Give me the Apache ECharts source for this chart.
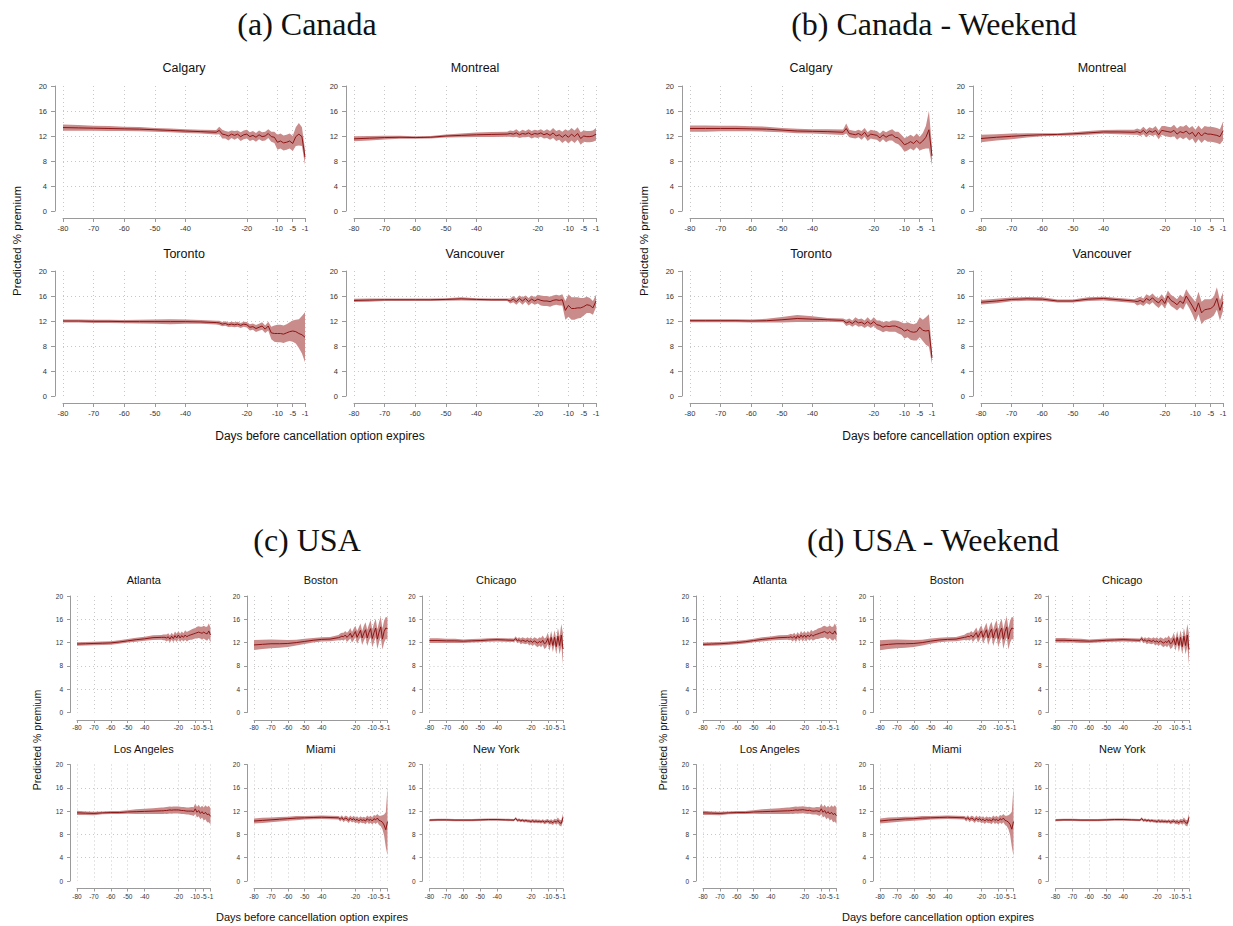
<!DOCTYPE html>
<html>
<head>
<meta charset="utf-8">
<script src="https://cdn.jsdelivr.net/npm/echarts@6.0.0/dist/echarts.min.js"></script>
<style>html,body{margin:0;padding:0;background:#fff}#c{width:1233px;height:926px}</style>
</head>
<body>
<div id="c"></div>
<script>
// ---------------- DATA ----------------
const days = [-80,-75,-70,-65,-60,-55,-50,-45,-40,-35,-30,
  -29,-28,-27,-26,-25,-24,-23,-22,-21,-20,
  -19,-18,-17,-16,-15,-14,-13,-12,-11,-10,
  -9,-8,-7,-6,-5,-4,-3,-2,-1];
const xTickDays = [-80,-70,-60,-50,-40,-20,-10,-5,-1];
const yTickValues = [0,4,8,12,16,20];
const yGridValues = [4,8,12,16];

const sectionHeaders = ['(a) Canada','(b) Canada - Weekend','(c) USA','(d) USA - Weekend'];
const canadaCities = ['Calgary','Montreal','Toronto','Vancouver'];
const usaCities = ['Atlanta','Boston','Chicago','Los Angeles','Miami','New York'];
const xAxisTitle = 'Days before cancellation option expires';
const yAxisTitle = 'Predicted % premium';

// (a) Canada  — mean and half-width of the confidence band
const caCalgaryMean = [13.35,13.3,13.25,13.2,13.15,13.1,13.0,12.9,12.8,12.7,12.6,
  12.9,12.3,12.2,12.0,12.3,12.1,12.3,11.9,12.2,12.3,
  11.9,12.1,11.8,12.2,11.9,12.0,12.4,11.9,11.8,11.0,
  11.2,10.9,11.0,11.2,10.8,11.9,12.3,11.9,8.6];
const caCalgaryCI = [0.5,0.45,0.4,0.4,0.35,0.35,0.3,0.3,0.3,0.3,0.35,
  0.6,0.7,0.6,0.7,0.6,0.7,0.6,0.7,0.7,0.7,
  0.7,0.7,0.7,0.7,0.7,0.7,0.7,0.8,0.9,1.2,
  1.2,1.2,1.2,1.2,1.2,1.5,1.8,1.5,1.2];
const caMontrealMean = [11.55,11.65,11.75,11.8,11.75,11.8,12.0,12.1,12.2,12.25,12.3,
  12.4,12.3,12.5,12.2,12.4,12.3,12.5,12.2,12.4,12.3,
  12.5,12.2,12.4,12.1,12.5,12.0,12.2,11.8,12.2,11.8,
  12.3,11.9,12.4,11.6,12.0,11.9,11.9,12.0,12.3];
const caMontrealCI = [0.4,0.35,0.3,0.25,0.2,0.2,0.25,0.3,0.35,0.4,0.4,
  0.5,0.5,0.6,0.5,0.6,0.5,0.6,0.6,0.6,0.6,
  0.6,0.6,0.7,0.7,0.8,0.8,0.8,0.9,0.9,1.0,
  1.0,1.0,1.0,1.0,0.9,0.9,0.9,0.9,1.0];
const caTorontoMean = [12.0,12.0,11.95,11.95,11.9,11.9,11.9,11.9,11.9,11.85,11.75,
  11.7,11.5,11.6,11.4,11.5,11.4,11.5,11.3,11.5,11.4,
  11.0,11.1,10.8,11.0,11.2,10.7,11.2,10.1,10.0,10.0,
  10.0,9.9,10.1,10.3,10.4,10.3,10.0,9.8,9.4];
const caTorontoCI = [0.25,0.25,0.25,0.25,0.25,0.3,0.35,0.4,0.35,0.3,0.3,
  0.35,0.35,0.35,0.35,0.4,0.4,0.4,0.4,0.4,0.45,
  0.5,0.5,0.55,0.55,0.6,0.6,0.7,1.0,1.3,1.4,
  1.4,1.4,1.4,1.5,1.7,1.9,2.3,3.0,4.0];
const caVancouverMean = [15.3,15.35,15.4,15.4,15.4,15.4,15.45,15.55,15.45,15.4,15.4,
  15.2,15.5,15.1,15.6,15.2,15.6,15.1,15.5,15.2,15.5,
  15.3,15.2,15.2,15.1,15.3,15.4,15.3,15.4,13.7,14.5,
  14.0,14.0,14.1,14.1,14.3,14.6,14.5,14.1,15.2];
const caVancouverCI = [0.25,0.25,0.2,0.2,0.2,0.2,0.2,0.25,0.2,0.2,0.2,
  0.4,0.5,0.5,0.5,0.6,0.5,0.6,0.6,0.6,0.7,
  0.8,0.8,0.8,0.8,0.8,0.8,0.8,0.9,1.5,1.8,
  1.8,1.8,1.7,1.6,1.4,1.3,1.2,1.1,1.0];

// (b) Canada - Weekend
const cwCalgaryMean = [13.2,13.2,13.2,13.2,13.15,13.1,12.95,12.8,12.75,12.7,12.6,
  13.2,12.4,12.3,12.2,12.4,12.1,12.6,11.9,12.3,12.2,
  12.1,11.7,12.2,11.8,12.1,12.2,11.8,11.7,11.2,10.6,
  10.8,11.1,10.8,11.3,10.8,11.2,11.8,13.0,8.8];
const cwCalgaryCI = [0.5,0.5,0.45,0.45,0.4,0.4,0.35,0.35,0.35,0.4,0.45,
  0.8,0.6,0.6,0.6,0.6,0.7,0.7,0.7,0.7,0.7,
  0.7,0.7,0.7,0.8,0.8,0.9,0.9,1.0,1.0,1.1,
  1.1,1.1,1.1,1.1,1.1,1.3,1.8,3.0,1.5];
const cwMontrealMean = [11.6,11.8,11.95,12.1,12.2,12.25,12.35,12.5,12.65,12.65,12.6,
  12.7,12.5,12.9,12.4,12.8,12.6,12.9,12.2,12.9,12.8,
  12.7,12.6,12.9,12.3,12.7,12.5,12.8,12.3,12.6,11.9,
  12.6,12.0,12.5,12.3,12.3,12.2,12.1,11.9,12.8];
const cwMontrealCI = [0.6,0.5,0.45,0.35,0.25,0.2,0.25,0.3,0.3,0.35,0.4,
  0.5,0.5,0.6,0.6,0.6,0.6,0.7,0.7,0.7,0.8,
  0.8,0.8,0.9,0.9,0.9,1.0,1.0,1.0,1.0,1.1,
  1.1,1.1,1.1,1.2,1.2,1.2,1.2,1.2,1.5];
const cwTorontoMean = [12.05,12.05,12.05,12.05,12.0,12.05,12.2,12.4,12.3,12.2,12.1,
  11.7,11.9,11.6,12.0,11.7,11.8,11.5,11.9,11.5,11.9,
  11.4,11.3,11.0,11.2,11.1,11.2,11.2,11.0,10.8,10.4,
  10.6,10.3,10.2,10.3,11.0,10.5,10.4,10.5,6.1];
const cwTorontoCI = [0.25,0.25,0.25,0.25,0.25,0.3,0.45,0.55,0.45,0.3,0.3,
  0.5,0.5,0.5,0.6,0.6,0.6,0.6,0.7,0.6,0.7,
  0.7,0.8,0.8,0.8,0.8,0.9,0.9,1.0,1.0,1.2,
  1.2,1.3,1.3,1.4,1.6,1.7,2.2,2.6,1.0];
const cwVancouverMean = [15.0,15.2,15.45,15.55,15.5,15.2,15.2,15.5,15.6,15.4,15.2,
  15.1,15.3,15.0,15.6,15.3,15.7,15.2,14.9,15.5,14.8,
  16.0,15.3,15.0,14.6,15.2,14.8,16.0,15.2,14.4,13.5,
  14.9,13.3,13.8,13.9,14.0,14.4,15.6,13.7,15.1];
const cwVancouverCI = [0.35,0.35,0.3,0.3,0.3,0.25,0.25,0.3,0.3,0.3,0.3,
  0.6,0.6,0.6,0.7,0.7,0.7,0.7,0.8,0.8,0.8,
  0.9,0.9,0.9,0.9,1.0,1.0,1.1,1.1,1.3,1.6,
  1.8,1.8,1.7,1.6,1.5,1.5,1.8,1.6,1.5];

// (c) USA
const usAtlantaMean = [11.75,11.8,11.85,11.9,11.95,12.1,12.3,12.5,12.65,12.85,12.9,
  12.9,12.9,12.8,13.0,12.6,13.1,12.7,13.2,12.8,13.3,
  12.8,13.2,12.9,13.3,13.0,13.2,13.3,13.4,13.5,13.6,
  13.7,13.8,13.7,13.6,13.8,13.6,13.5,14.0,13.3];
const usAtlantaCI = [0.3,0.3,0.3,0.3,0.3,0.3,0.3,0.35,0.35,0.4,0.4,
  0.5,0.5,0.6,0.6,0.6,0.6,0.6,0.7,0.7,0.7,
  0.7,0.7,0.7,0.8,0.8,0.8,0.8,0.9,0.9,0.9,
  1.0,1.0,1.0,1.1,1.1,1.1,1.2,1.3,1.3];
const usBostonMean = [11.6,11.7,11.8,11.8,11.85,12.0,12.2,12.4,12.55,12.6,12.85,
  12.95,13.1,13.0,13.3,12.9,13.2,13.6,12.9,13.4,13.9,
  12.9,13.5,14.1,12.8,13.6,14.2,12.8,13.7,14.4,12.7,
  13.7,14.5,12.6,13.8,14.7,12.6,13.9,14.5,14.4];
const usBostonCI = [0.85,0.8,0.75,0.7,0.6,0.5,0.45,0.4,0.35,0.35,0.45,
  0.6,0.6,0.7,0.7,0.8,0.8,0.9,0.9,1.0,1.0,
  1.1,1.1,1.2,1.2,1.3,1.3,1.4,1.4,1.5,1.5,
  1.6,1.6,1.7,1.7,1.8,1.8,1.9,1.9,1.9];
const usChicagoMean = [12.35,12.35,12.3,12.3,12.25,12.3,12.35,12.45,12.5,12.45,12.4,
  12.7,12.3,12.5,12.2,12.4,12.3,12.2,12.4,12.1,12.3,
  12.0,12.3,12.1,11.9,12.2,12.0,12.4,11.8,12.0,12.7,
  11.6,12.9,11.5,12.9,11.3,13.1,11.5,13.3,10.9];
const usChicagoCI = [0.4,0.4,0.35,0.35,0.3,0.3,0.3,0.3,0.3,0.3,0.3,
  0.4,0.4,0.4,0.5,0.5,0.5,0.5,0.5,0.6,0.6,
  0.6,0.6,0.7,0.7,0.7,0.8,0.8,0.9,0.9,1.0,
  1.0,1.1,1.1,1.2,1.3,1.4,1.5,1.9,2.6];
const usLosAngelesMean = [11.7,11.65,11.6,11.7,11.75,11.75,11.85,11.9,11.95,12.0,12.05,
  12.05,12.1,12.1,12.15,12.2,12.15,12.2,12.2,12.2,12.2,
  12.15,12.1,12.1,12.05,12.0,12.0,12.0,12.0,11.9,12.4,
  11.8,12.1,11.6,11.9,11.5,11.8,11.4,11.5,11.1];
const usLosAngelesCI = [0.35,0.3,0.3,0.25,0.25,0.25,0.3,0.4,0.45,0.5,0.55,
  0.55,0.55,0.6,0.6,0.6,0.6,0.6,0.6,0.6,0.6,
  0.6,0.6,0.6,0.6,0.6,0.6,0.65,0.7,0.75,0.9,
  0.9,1.0,1.0,1.0,1.1,1.2,1.3,1.4,1.4];
const usMiamiMean = [10.3,10.4,10.5,10.6,10.7,10.8,10.85,10.9,10.95,10.9,10.85,
  10.6,10.9,10.5,10.8,10.7,10.4,10.8,10.5,10.7,10.4,
  10.6,10.3,10.6,10.4,10.5,10.3,10.7,10.4,10.6,10.3,
  10.7,10.5,10.8,10.4,10.3,10.1,9.6,8.8,10.2];
const usMiamiCI = [0.45,0.45,0.4,0.4,0.35,0.35,0.3,0.3,0.3,0.3,0.3,
  0.4,0.4,0.4,0.4,0.45,0.45,0.45,0.45,0.5,0.5,
  0.5,0.5,0.5,0.5,0.55,0.55,0.55,0.6,0.6,0.6,
  0.65,0.7,0.7,0.8,0.9,1.2,1.8,3.0,5.8];
const usNewYorkMean = [10.45,10.5,10.5,10.45,10.45,10.45,10.5,10.55,10.55,10.5,10.45,
  10.75,10.4,10.5,10.35,10.45,10.3,10.4,10.3,10.3,10.2,
  10.35,10.2,10.3,10.2,10.25,10.15,10.3,10.1,10.2,10.3,
  10.1,10.2,10.0,10.3,10.1,10.4,10.0,9.9,10.9];
const usNewYorkCI = [0.2,0.2,0.2,0.2,0.2,0.2,0.2,0.2,0.2,0.2,0.2,
  0.25,0.25,0.25,0.25,0.25,0.25,0.25,0.25,0.25,0.3,
  0.3,0.3,0.3,0.3,0.3,0.3,0.3,0.35,0.35,0.35,
  0.35,0.4,0.4,0.4,0.45,0.5,0.5,0.55,0.7];

// (d) USA - Weekend
const uwAtlantaMean = [11.7,11.75,11.8,11.9,12.0,12.15,12.35,12.55,12.7,12.85,12.9,
  12.9,13.0,12.8,13.1,12.7,13.2,12.8,13.3,12.9,13.3,
  12.9,13.3,13.0,13.4,13.1,13.3,13.4,13.5,13.6,13.7,
  13.8,13.9,13.7,13.6,13.9,13.6,13.5,14.0,13.4];
const uwAtlantaCI = [0.3,0.3,0.3,0.3,0.3,0.3,0.3,0.35,0.35,0.4,0.4,
  0.5,0.5,0.6,0.6,0.6,0.6,0.6,0.7,0.7,0.7,
  0.7,0.7,0.7,0.8,0.8,0.8,0.8,0.9,0.9,0.9,
  1.0,1.0,1.0,1.1,1.1,1.1,1.2,1.3,1.3];
const uwBostonMean = [11.55,11.7,11.8,11.8,11.85,12.0,12.25,12.45,12.55,12.6,12.9,
  12.95,13.1,13.0,13.3,12.9,13.3,13.7,12.9,13.5,14.0,
  12.9,13.6,14.2,12.8,13.7,14.3,12.8,13.8,14.4,12.7,
  13.8,14.5,12.6,13.9,14.7,12.6,13.9,14.5,14.4];
const uwBostonCI = [0.85,0.8,0.75,0.7,0.6,0.5,0.45,0.4,0.35,0.35,0.45,
  0.6,0.6,0.7,0.7,0.8,0.8,0.9,0.9,1.0,1.0,
  1.1,1.1,1.2,1.2,1.3,1.3,1.4,1.4,1.5,1.5,
  1.6,1.6,1.7,1.7,1.8,1.8,1.9,1.9,1.9];
const uwChicagoMean = [12.4,12.4,12.35,12.3,12.25,12.3,12.4,12.45,12.5,12.45,12.4,
  12.7,12.3,12.5,12.2,12.4,12.3,12.2,12.4,12.1,12.3,
  12.0,12.3,12.1,11.9,12.2,12.0,12.4,11.8,12.0,12.7,
  11.6,12.9,11.5,12.9,11.3,13.1,11.5,13.3,10.8];
const uwChicagoCI = [0.4,0.4,0.35,0.35,0.3,0.3,0.3,0.3,0.3,0.3,0.3,
  0.4,0.4,0.4,0.5,0.5,0.5,0.5,0.5,0.6,0.6,
  0.6,0.6,0.7,0.7,0.7,0.8,0.8,0.9,0.9,1.0,
  1.0,1.1,1.1,1.2,1.3,1.4,1.5,1.9,2.6];
const uwLosAngelesMean = [11.7,11.65,11.6,11.7,11.75,11.75,11.85,11.9,11.95,12.0,12.05,
  12.05,12.1,12.1,12.15,12.2,12.15,12.2,12.2,12.25,12.2,
  12.15,12.1,12.15,12.05,12.0,12.0,12.05,12.0,11.9,12.4,
  11.8,12.1,11.6,11.9,11.5,11.8,11.4,11.6,11.2];
const uwLosAngelesCI = [0.35,0.3,0.3,0.25,0.25,0.25,0.3,0.4,0.45,0.5,0.55,
  0.55,0.55,0.6,0.6,0.6,0.6,0.6,0.6,0.6,0.6,
  0.6,0.6,0.6,0.6,0.6,0.6,0.65,0.7,0.75,0.9,
  0.9,1.0,1.0,1.0,1.1,1.2,1.3,1.4,1.4];
const uwMiamiMean = [10.3,10.45,10.55,10.65,10.7,10.8,10.85,10.9,10.95,10.9,10.85,
  10.6,10.9,10.5,10.8,10.7,10.4,10.8,10.5,10.7,10.4,
  10.6,10.3,10.6,10.4,10.5,10.3,10.7,10.4,10.6,10.3,
  10.7,10.5,10.8,10.4,10.3,10.1,9.7,8.9,10.2];
const uwMiamiCI = [0.45,0.45,0.4,0.4,0.35,0.35,0.3,0.3,0.3,0.3,0.3,
  0.4,0.4,0.4,0.4,0.45,0.45,0.45,0.45,0.5,0.5,
  0.5,0.5,0.5,0.5,0.55,0.55,0.55,0.6,0.6,0.6,
  0.65,0.7,0.7,0.8,0.9,1.2,1.8,3.0,5.9];
const uwNewYorkMean = [10.45,10.5,10.5,10.45,10.45,10.45,10.5,10.55,10.55,10.5,10.45,
  10.7,10.4,10.5,10.35,10.45,10.3,10.4,10.3,10.3,10.2,
  10.35,10.2,10.3,10.2,10.25,10.15,10.3,10.1,10.2,10.3,
  10.1,10.2,10.0,10.3,10.1,10.4,10.0,9.9,10.9];
const uwNewYorkCI = [0.2,0.2,0.2,0.2,0.2,0.2,0.2,0.2,0.2,0.2,0.2,
  0.25,0.25,0.25,0.25,0.25,0.25,0.25,0.25,0.25,0.3,
  0.3,0.3,0.3,0.3,0.3,0.3,0.3,0.35,0.35,0.35,
  0.35,0.4,0.4,0.4,0.45,0.5,0.5,0.55,0.7];

// ---------------- LAYOUT / STYLE ----------------
const LINE_COLOR = '#8e1515';
const BAND_COLOR = '#ca8b8b';
const AXIS_COLOR = '#9a9a9a';
const GRID_COLOR = '#c8c8c8';
const GRID_DASH = [1, 3];
const SANS = '"Liberation Sans", Arial, Helvetica, sans-serif';
const SERIF = '"Liberation Serif", "Times New Roman", serif';

const sections = [
  { header: sectionHeaders[0], hx: 307, hy: 24, cities: canadaCities,
    series: [[caCalgaryMean, caCalgaryCI],[caMontrealMean, caMontrealCI],[caTorontoMean, caTorontoCI],[caVancouverMean, caVancouverCI]],
    cols: [63, 354], rows: [86, 271], w: 242, h: 125, titleY: [68, 254],
    yOff: 8, xOff: 7, tickFs: 7.5, titleFs: 12.5, tickLen: 4, xMargin: 6, yMargin: 8,
    xName: {x: 320, y: 436, fs: 12}, yName: {x: 17, y: 241, fs: 11.5} },
  { header: sectionHeaders[1], hx: 934, hy: 24, cities: canadaCities,
    series: [[cwCalgaryMean, cwCalgaryCI],[cwMontrealMean, cwMontrealCI],[cwTorontoMean, cwTorontoCI],[cwVancouverMean, cwVancouverCI]],
    cols: [690, 981], rows: [86, 271], w: 242, h: 125, titleY: [68, 254],
    yOff: 8, xOff: 7, tickFs: 7.5, titleFs: 12.5, tickLen: 4, xMargin: 6, yMargin: 8,
    xName: {x: 947, y: 436, fs: 12}, yName: {x: 644, y: 241, fs: 11.5} },
  { header: sectionHeaders[2], hx: 307, hy: 540, cities: usaCities,
    series: [[usAtlantaMean, usAtlantaCI],[usBostonMean, usBostonCI],[usChicagoMean, usChicagoCI],[usLosAngelesMean, usLosAngelesCI],[usMiamiMean, usMiamiCI],[usNewYorkMean, usNewYorkCI]],
    cols: [77, 254, 429.5], rows: [596, 764.5], w: 133.5, h: 116.5, titleY: [580, 749],
    yOff: 7, xOff: 7.5, tickFs: 6.5, titleFs: 11, tickLen: 3, xMargin: 4, yMargin: 7,
    xName: {x: 312, y: 917, fs: 11}, yName: {x: 37, y: 740, fs: 10.5} },
  { header: sectionHeaders[3], hx: 933, hy: 540, cities: usaCities,
    series: [[uwAtlantaMean, uwAtlantaCI],[uwBostonMean, uwBostonCI],[uwChicagoMean, uwChicagoCI],[uwLosAngelesMean, uwLosAngelesCI],[uwMiamiMean, uwMiamiCI],[uwNewYorkMean, uwNewYorkCI]],
    cols: [703, 880, 1055.5], rows: [596, 764.5], w: 133.5, h: 116.5, titleY: [580, 749],
    yOff: 7, xOff: 7.5, tickFs: 6.5, titleFs: 11, tickLen: 3, xMargin: 4, yMargin: 7,
    xName: {x: 938, y: 917, fs: 11}, yName: {x: 663, y: 740, fs: 10.5} }
];

const grid = [], xAxis = [], yAxis = [], series = [], graphic = [];
let gi = 0;

function txt(text, x, y, font, opts) {
  return Object.assign({ type: 'text', x: x, y: y, silent: true,
    style: { text: text, font: font, fill: '#111', align: 'center', verticalAlign: 'middle' } }, opts || {});
}

function bandRenderer(bandData) {
  return function (params, api) {
    if (params.dataIndex !== 0) return null;
    const upperPts = bandData.map(d => api.coord([d[0], d[2]]));
    const lowerPts = bandData.slice().reverse().map(d => api.coord([d[0], d[1]]));
    return { type: 'polygon', shape: { points: upperPts.concat(lowerPts) },
      style: { fill: BAND_COLOR, stroke: 'none' } };
  };
}

sections.forEach(sec => {
  graphic.push(txt(sec.header, sec.hx, sec.hy, '32px ' + SERIF));
  graphic.push(txt(xAxisTitle, sec.xName.x, sec.xName.y, sec.xName.fs + 'px ' + SANS));
  graphic.push(txt(yAxisTitle, sec.yName.x, sec.yName.y, sec.yName.fs + 'px ' + SANS, { rotation: Math.PI / 2 }));
  const nc = sec.cols.length;
  sec.series.forEach((pair, p) => {
    const mean = pair[0], ci = pair[1];
    const col = p % nc, row = Math.floor(p / nc);
    const left = sec.cols[col], top = sec.rows[row];
    grid.push({ left: left, top: top, width: sec.w, height: sec.h, containLabel: false, outerBoundsMode: 'none' });
    graphic.push(txt(sec.cities[p], left + sec.w / 2, sec.titleY[row], sec.titleFs + 'px ' + SANS));
    xAxis.push({
      type: 'value', gridIndex: gi, min: -80, max: -1, offset: sec.xOff,
      axisLine: { show: true, onZero: false, lineStyle: { color: AXIS_COLOR, width: 1 } },
      axisTick: { show: true, customValues: xTickDays, length: sec.tickLen, lineStyle: { color: AXIS_COLOR } },
      axisLabel: { show: true, customValues: xTickDays, fontSize: sec.tickFs, color: '#333', margin: sec.xMargin, fontFamily: SANS, hideOverlap: false },
      splitLine: { show: true, lineStyle: { type: GRID_DASH, color: GRID_COLOR, width: 1 } }
    });
    yAxis.push({
      type: 'value', gridIndex: gi, min: 0, max: 20, interval: 4, offset: sec.yOff, position: 'left',
      axisLine: { show: true, onZero: false, lineStyle: { color: AXIS_COLOR, width: 1 } },
      axisTick: { show: true, customValues: yTickValues, length: sec.tickLen, lineStyle: { color: AXIS_COLOR } },
      axisLabel: { show: true, customValues: yTickValues, fontSize: sec.tickFs, color: '#333', margin: sec.yMargin, fontFamily: SANS },
      splitLine: { show: false }
    });
    yAxis.push({
      type: 'value', gridIndex: gi, min: 0, max: 20, position: 'right',
      axisLine: { show: false }, axisLabel: { show: false },
      axisTick: { show: false, customValues: yGridValues },
      splitLine: { show: true, lineStyle: { type: GRID_DASH, color: GRID_COLOR, width: 1 } }
    });
    const yi = gi * 2;
    const bandData = mean.map((m, k) => [days[k], +(m - ci[k]).toFixed(3), +(m + ci[k]).toFixed(3)]);
    const line = mean.map((m, k) => [days[k], m]);
    series.push({ type: 'custom', xAxisIndex: gi, yAxisIndex: yi, data: bandData,
      encode: { x: 0, y: [1, 2] }, renderItem: bandRenderer(bandData), silent: true, z: 1 });
    series.push({ type: 'line', xAxisIndex: gi, yAxisIndex: yi, data: line,
      symbol: 'none', silent: true, lineStyle: { color: LINE_COLOR, width: 1 }, z: 3 });
    gi++;
  });
});

const chart = echarts.init(document.getElementById('c'), null, { renderer: 'svg' });
chart.setOption({
  animation: false,
  backgroundColor: '#ffffff',
  textStyle: { fontFamily: SANS },
  grid: grid, xAxis: xAxis, yAxis: yAxis, series: series, graphic: graphic
});
</script>
</body>
</html>
